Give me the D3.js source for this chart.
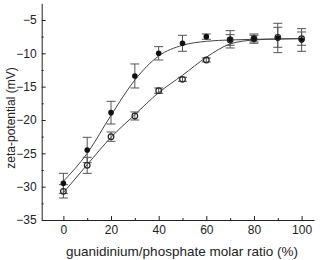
<!DOCTYPE html>
<html>
<head>
<meta charset="utf-8">
<script src="https://cdn.jsdelivr.net/npm/d3@7"></script>
<style>
  body { margin: 0; background: #fff; }
  svg { display: block; font-family: "Liberation Sans", Arial, sans-serif; }
</style>
</head>
<body>
<svg id="chart"></svg>
<script>
const width = 320;
const height = 260;

// measured data (guanidinium/phosphate molar ratio, %)
const ratio = [0, 10, 20, 30, 40, 50, 60, 70, 80, 90, 100];
const filledVals = [-29.5, -24.5, -18.9, -13.4, -10.0, -8.5, -7.5, -7.9, -7.8, -7.7, -8.0];
const filledErr = [1.5, 1.9, 1.7, 1.8, 1.0, 1.2, 0.4, 1.3, 0.7, 2.2, 1.7];
const openVals = [-30.7, -26.8, -22.5, -19.4, -15.6, -13.9, -11.0, -8.0, -7.8, -7.6, -7.8];
const openErr = [1.0, 1.2, 0.7, 0.6, 0.4, 0.3, 0.3, 0.8, 0.5, 1.5, 1.0];

// fitted curves
const fitX = [0, 10, 20, 30, 40, 50, 60, 70, 80, 90, 100];
const fitFilled = [-29.2, -25.0, -19.3, -14.0, -10.4, -8.8, -8.2, -8.0, -7.9, -7.85, -7.8];
const fitOpen = [-30.9, -26.7, -22.6, -19.2, -15.9, -13.3, -10.6, -8.6, -8.0, -7.85, -7.8];

const yTicks = [-35, -30, -25, -20, -15, -10, -5];
const yMinor = [-32.5, -27.5, -22.5, -17.5, -12.5, -7.5];
const xTicks = [0, 20, 40, 60, 80, 100];
const xMinor = [10, 30, 50, 70, 90];

const svg = d3.select('svg#chart').attr('width', width).attr('height', height);

const x = d3.scaleLinear().domain([-9.1, 105.2]).range([41.7, 314]);
const y = d3.scaleLinear().domain([-35, -2.5]).range([220, 3.3]);

const axisColor = '#222';

// y axis
svg.append('g')
    .attr('transform', 'translate(' + x.range()[0] + ',0)')
    .call(d3.axisLeft(y).tickValues(yTicks).tickSizeInner(-4).tickSizeOuter(0).tickPadding(5));
svg.append('g')
    .attr('transform', 'translate(' + x.range()[0] + ',0)')
    .call(d3.axisLeft(y).tickValues(yMinor).tickSizeInner(-2).tickSizeOuter(0).tickFormat(''))
    .select('.domain').remove();

// x axis
svg.append('g')
    .attr('transform', 'translate(0,' + y.range()[0] + ')')
    .call(d3.axisBottom(x).tickValues(xTicks).tickSizeInner(-4).tickSizeOuter(0).tickPadding(5));
svg.append('g')
    .attr('transform', 'translate(0,' + y.range()[0] + ')')
    .call(d3.axisBottom(x).tickValues(xMinor).tickSizeInner(-2).tickSizeOuter(0).tickFormat(''))
    .select('.domain').remove();

svg.selectAll('.domain, .tick line').attr('stroke', axisColor).attr('stroke-width', 1);
svg.selectAll('.tick text')
    .attr('fill', axisColor)
    .style('font-size', '12px')
    .style('font-family', '"Liberation Sans", Arial, sans-serif');

// axis titles
svg.append('text')
    .attr('transform', 'translate(15,118) rotate(-90)')
    .attr('text-anchor', 'middle')
    .attr('fill', axisColor)
    .style('font-size', '12px')
    .text('zeta-potential (mV)');

svg.append('text')
    .attr('x', 182)
    .attr('y', 256)
    .attr('text-anchor', 'middle')
    .attr('fill', axisColor)
    .style('font-size', '13.5px')
    .text('guanidinium/phosphate molar ratio (%)');

// fit curves
const line = d3.line()
    .x((d, i) => x(fitX[i]))
    .y(d => y(d))
    .curve(d3.curveMonotoneX);

svg.append('path').attr('d', line(fitFilled))
    .attr('fill', 'none').attr('stroke', '#444').attr('stroke-width', 1);
svg.append('path').attr('d', line(fitOpen))
    .attr('fill', 'none').attr('stroke', '#444').attr('stroke-width', 1);

// error bars
function drawErrors(vals, errs) {
    const g = svg.append('g').attr('stroke', '#555').attr('stroke-width', 1);
    ratio.forEach((r, i) => {
        const cx = x(r);
        const top = y(vals[i] + errs[i]);
        const bot = y(vals[i] - errs[i]);
        g.append('line').attr('x1', cx).attr('x2', cx).attr('y1', top).attr('y2', bot);
        g.append('line').attr('x1', cx - 4.5).attr('x2', cx + 4.5).attr('y1', top).attr('y2', top);
        g.append('line').attr('x1', cx - 4.5).attr('x2', cx + 4.5).attr('y1', bot).attr('y2', bot);
    });
}
drawErrors(filledVals, filledErr);
drawErrors(openVals, openErr);

// points
svg.append('g').selectAll('circle')
    .data(filledVals)
    .join('circle')
    .attr('cx', (d, i) => x(ratio[i]))
    .attr('cy', d => y(d))
    .attr('r', 2.8)
    .attr('fill', '#111');

svg.append('g').selectAll('circle')
    .data(openVals)
    .join('circle')
    .attr('cx', (d, i) => x(ratio[i]))
    .attr('cy', d => y(d))
    .attr('r', 2.8)
    .attr('fill', 'none')
    .attr('stroke', '#222')
    .attr('stroke-width', 1.2);
</script>
</body>
</html>
